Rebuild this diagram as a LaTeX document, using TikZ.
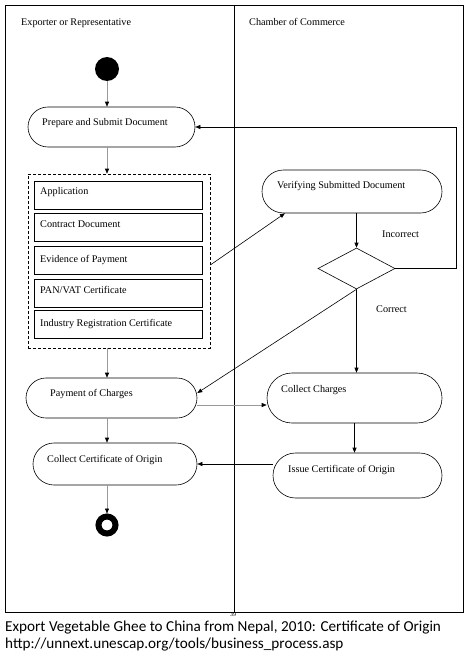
\documentclass[tikz,border=0pt]{standalone}
\usepackage{fontspec}
\setmainfont{Liberation Serif}
\newfontfamily\capfont{Carlito}
\usetikzlibrary{shapes.misc,shapes.geometric,arrows.meta}

\begin{document}
\begin{tikzpicture}[x=1pt,y=-1pt,
  act/.style={draw,rounded rectangle,inner sep=0pt,line width=0.6pt},
  doc/.style={draw,rectangle,inner sep=0pt,line width=0.6pt,minimum width=168pt,minimum height=28pt},
  lbl/.style={anchor=base west,inner sep=0pt,font=\fontsize{10.2}{12}\selectfont},
  arr/.style={line width=0.6pt,-{Triangle[length=5pt,width=4pt]}},
  garr/.style={line width=0.6pt,draw=black!40,-{Triangle[length=5pt,width=4pt,color=black]}}]
\useasboundingbox (0,0) rectangle (466,661);
\fill[white] (0,0) rectangle (466,661);
% swimlanes
\draw[line width=0.8pt] (5,5) rectangle (463,612);
\draw[line width=0.8pt] (234,5) -- (234,612);
\node[lbl] (lane1) at (21,26) {Exporter or Representative};
\node[lbl] (lane2) at (249,26) {Chamber of Commerce};
% exporter side
\node[circle,fill=black,minimum size=24pt,inner sep=0pt] (start) at (107,69) {};
\node[act,minimum width=167pt,minimum height=40pt] (prep) at (111.5,127) {};
\node[lbl] (preplbl) at (42,125) {Prepare and Submit Document};
\node[draw,dash pattern=on 3pt off 2pt,line width=0.6pt,inner sep=0pt,minimum width=182pt,minimum height=174pt] (docs) at (119,261) {};
\node[doc] (appl) at (118,195) {};
\node[lbl] (appllbl) at (40,194) {Application};
\node[doc] (contr) at (118,227) {};
\node[lbl] (contrlbl) at (40,227) {Contract Document};
\node[doc] (evid) at (118,260.5) {};
\node[lbl] (evidlbl) at (40,262) {Evidence of Payment};
\node[doc] (pan) at (118,293) {};
\node[lbl] (panlbl) at (40,293) {PAN/VAT Certificate};
\node[doc] (indus) at (118,324.5) {};
\node[lbl] (induslbl) at (40,326) {Industry Registration Certificate};
\node[act,minimum width=171pt,minimum height=40pt] (pay) at (111.5,398) {};
\node[lbl] (paylbl) at (50,396) {Payment of Charges};
\node[act,minimum width=164pt,minimum height=42pt] (cert) at (115,464) {};
\node[lbl] (certlbl) at (47,462) {Collect Certificate of Origin};
\node[circle,draw,line width=6pt,minimum size=17pt,inner sep=0pt] (stop) at (107,525) {};
% chamber side
\node[act,minimum width=180pt,minimum height=43pt] (verify) at (352,191.5) {};
\node[lbl] (verifylbl) at (277,188) {Verifying Submitted Document};
\node[diamond,draw,line width=0.6pt,minimum width=77pt,minimum height=41pt,inner sep=0pt] (dec) at (356.5,268.5) {};
\node[lbl] (incorrect) at (382,237) {Incorrect};
\node[lbl] (correct) at (376,312) {Correct};
\node[act,minimum width=175pt,minimum height=50pt] (coll) at (354.5,398) {};
\node[lbl] (colllbl) at (281,392) {Collect Charges};
\node[act,minimum width=169pt,minimum height=45pt] (issue) at (357.5,475.5) {};
\node[lbl] (issuelbl) at (288,472) {Issue Certificate of Origin};
% flows
\draw[garr] (start) -- (start |- prep.north);
\draw[garr] (start |- prep.south) -- (start |- docs.north);
\draw[arr] ([yshift=-4pt]docs.east) -- (verify.198);
\draw[arr] (dec.north |- verify.south) -- (dec.north);
\coordinate (back) at (456,127);
\draw[arr] (dec.east) -| (back) -- (prep.east);
\draw[arr] (dec.south) -- (dec.south |- coll.north);
\draw[arr] (dec.south) -- ([yshift=5pt]pay.east);
\draw[garr] (start |- docs.south) -- (start |- pay.north);
\coordinate (pc) at ([yshift=-7pt]pay.east);
\draw[garr] (pc) -- (pc -| coll.west);
\draw[arr] (coll.south) -- (coll.south |- issue.north);
\draw[arr] (cert.east -| issue.west) -- (cert.east);
\draw[garr] (start |- pay.south) -- (start |- cert.north);
\draw[garr] (start |- cert.south) -- (stop);
% caption
\node[inner sep=0pt,font=\fontsize{6}{7}\selectfont] (pgno) at (233,615) {39};
\node[anchor=base west,inner sep=0pt,font=\capfont\fontsize{15.2}{17}\selectfont] (cap1) at (5,631) {Export Vegetable Ghee to China from Nepal, 2010: Certificate of Origin};
\node[anchor=base west,inner sep=0pt,font=\capfont\fontsize{15.2}{17}\selectfont] (cap2) at (5,648) {http://unnext.unescap.org/tools/business\_process.asp};
\end{tikzpicture}
\end{document}
